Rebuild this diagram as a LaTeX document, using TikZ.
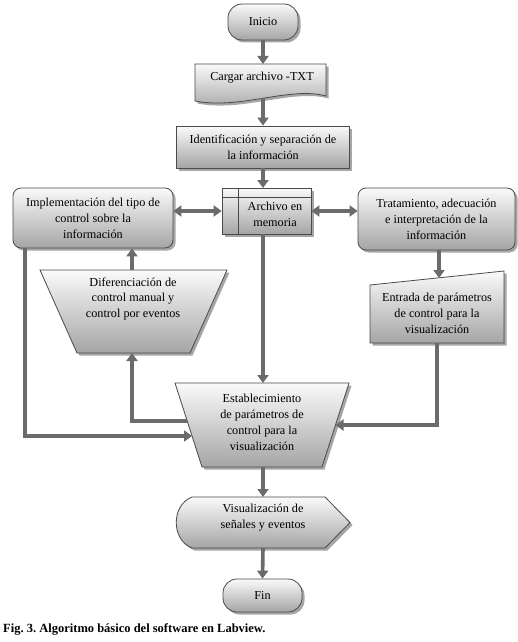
\documentclass[tikz,border=0pt]{standalone}
\usepackage{fontspec}
\setmainfont{Liberation Serif}
\usetikzlibrary{arrows.meta,shadows,calc}
\frenchspacing

\definecolor{edge}{HTML}{4A4A4A}
\definecolor{arr}{HTML}{6B6B6B}
\definecolor{fillbot}{HTML}{A5A5A5}
\definecolor{filltop}{HTML}{FAFAFA}

\tikzset{
 shapebox/.style={draw=edge, line width=0.8pt, top color=filltop, bottom color=fillbot,
   drop shadow={shadow xshift=2.5pt, shadow yshift=-2.5pt, opacity=0.35, fill=black}},
 txt/.style={align=center, font=\fontsize{12.2}{16}\selectfont, inner sep=0pt},
 flow/.style={draw=arr, line width=3.6pt, -{Triangle[length=8pt,width=11pt]}},
 biflow/.style={draw=arr, line width=3.6pt, {Triangle[length=8pt,width=11pt]}-{Triangle[length=8pt,width=11pt]}},
}

\begin{document}
\begin{tikzpicture}[x=1pt,y=-1pt]
\useasboundingbox[fill=white] (0,0) rectangle (518,642);

% Inicio
\node[shapebox, txt, rounded corners=14pt, minimum width=70pt, minimum height=36pt] (inicio) at (263,22) {Inicio};

% Cargar archivo (document)
\path[shapebox] (195,64) -- (326,64) -- (326,96) .. controls (290,86) and (240,110) .. (195,101) -- cycle;
\node[txt] (cargar) at (262,78) {Cargar archivo -TXT};
\coordinate (cargarTop) at (263,64);
\coordinate (cargarBot) at (263,98);

% Identificacion
\node[shapebox, txt, minimum width=173pt, minimum height=42pt] (ident) at (263,147) {Identificaci\'on y separaci\'on de\\la informaci\'on};

% Archivo en memoria (internal storage)
\node[shapebox, minimum width=89pt, minimum height=46pt] (archivo) at (266.5,211) {};
\draw[edge, line width=0.8pt] ($(archivo.north west)+(0,10)$) -- ($(archivo.north east)+(0,10)$);
\draw[edge, line width=0.8pt] ($(archivo.north west)+(17,0)$) -- ($(archivo.south west)+(17,0)$);
\node[txt] (archtxt) at (275,214) {Archivo en\\memoria};
\coordinate (archTop) at (263,188);
\coordinate (archBot) at (263,234);

% Implementacion
\node[shapebox, txt, rounded corners=8pt, minimum width=160pt, minimum height=60pt] (impl) at (93,218) {Implementaci\'on del tipo de\\control sobre la\\informaci\'on};

% Tratamiento
\node[shapebox, txt, rounded corners=8pt, minimum width=157pt, minimum height=62pt] (trat) at (436.5,219) {Tratamiento, adecuaci\'on\\e interpretaci\'on de la\\informaci\'on};

% Diferenciacion (manual operation)
\path[shapebox] (40,270) -- (227,270) -- (190,353) -- (77,353) -- cycle;
\node[txt] (dif) at (133,299) {Diferenciaci\'on de\\control manual y\\control por eventos};
\coordinate (difTop) at (132,270);
\coordinate (difBot) at (132,353);

% Entrada (manual input)
\path[shapebox] (370,285) -- (504,271) -- (504,343) -- (370,343) -- cycle;
\node[txt] (entrada) at (437,313) {Entrada de par\'ametros\\de control para la\\visualizaci\'on};
\coordinate (entTop) at (439,278);
\coordinate (entBot) at (437,343);

% Establecimiento (manual operation)
\path[shapebox] (175,383) -- (349,383) -- (322,467) -- (202,467) -- cycle;
\node[txt] (estab) at (262,422) {Establecimiento\\de par\'ametros de\\control para la\\visualizaci\'on};
\coordinate (estTop) at (263,383);
\coordinate (estBot) at (263,467);
\coordinate (estLeftA) at (187,421);
\coordinate (estLeftB) at (192,436);
\coordinate (estRight) at (335.5,425);

% Visualizacion (display)
\path[shapebox] (192,497) -- (325,497) -- (350,522.5) -- (325,548) -- (192,548) .. controls (171,540) and (171,505) .. (192,497) -- cycle;
\node[txt] (visual) at (263,518) {Visualizaci\'on de\\se\~nales y eventos};
\coordinate (visTop) at (263,497);
\coordinate (visBot) at (263,548);

% Fin
\node[shapebox, txt, rounded corners=14pt, minimum width=79pt, minimum height=33pt] (fin) at (262.5,595.5) {Fin};

% connectors
\draw[flow] (inicio.south) -- (cargarTop);
\draw[flow] (cargarBot) -- (ident.north);
\draw[flow] (ident.south) -- (archTop);
\draw[biflow] (impl.east |- archivo.west) -- (archivo.west);
\draw[biflow] (archivo.east) -- (trat.west |- archivo.east);
\draw[flow] (archBot) -- (estTop);
\draw[flow] (trat.south -| entTop) -- (entTop);
\draw[flow] (entBot) |- (estRight);
\draw[flow] (estLeftA) -| (difBot);
\draw[flow] (impl.south west -| 25,0) |- (estLeftB);
\draw[flow] (difTop) -- (impl.south -| difTop);
\draw[flow] (estBot) -- (visTop);
\draw[flow] (visBot) -- (fin.north);

% caption
\node[anchor=west, inner sep=0pt, font=\bfseries\fontsize{12.5}{14}\selectfont] (cap) at (3,629) {Fig. 3. Algoritmo b\'asico del software en Labview.};
\end{tikzpicture}
\end{document}
